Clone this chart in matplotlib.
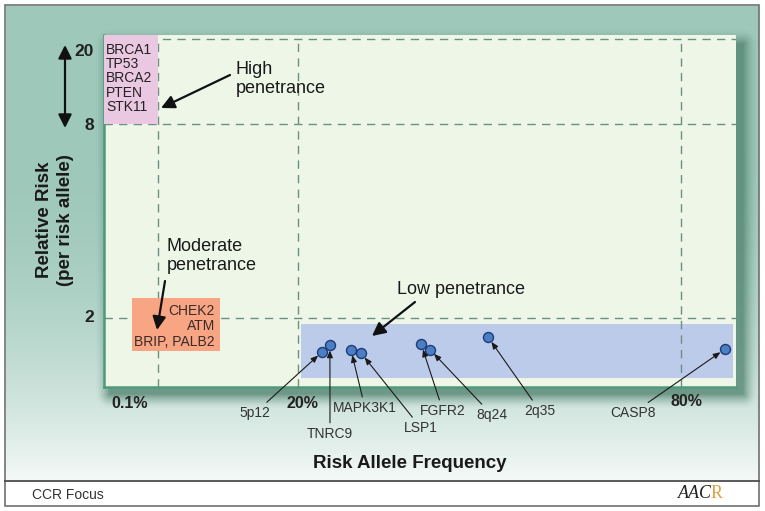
import numpy as np
import matplotlib
matplotlib.use("Agg")
import matplotlib.pyplot as plt
from matplotlib.patches import Rectangle

plt.rcParams['font.family'] = ['Liberation Sans', 'DejaVu Sans']

# Data (schematic values)
genes = ['5p12', 'TNRC9', 'MAPK3K1', 'LSP1', 'FGFR2', '8q24', '2q35', 'CASP8']
freq = [23.8, 25.0, 28.3, 29.9, 39.3, 40.7, 49.8, 86.9]   # risk allele frequency, %
rr = [1.51, 1.61, 1.54, 1.49, 1.62, 1.54, 1.72, 1.55]     # relative risk

high_genes = ['BRCA1', 'TP53', 'BRCA2', 'PTEN', 'STK11']
moderate_genes = ['CHEK2', 'ATM', 'BRIP, PALB2']

# penetrance regions: (freq_lo, freq_hi, rr_lo, rr_hi)
high_region = (0, 0.1, 8, 20.56)
moderate_region = (0.052, 8.9, 1.52, 2.62)
low_region = (20.47, 88.15, 1.13, 1.91)

freq_ticks = [0.1, 20, 80]
freq_labels = ['0.1%', '20%', '80%']
rr_ticks = [2, 8, 20]
rr_labels = ['2', '8', '20']

# schematic (piecewise linear) axes
FREQ_KNOTS, FREQ_POS = [0, 0.1, 20, 80], [0, 54, 194, 577]
RR_KNOTS, RR_POS = [1, 2, 8, 20], [0, 69, 263, 348]


def piecewise(v, xs, ys):
    v = np.asarray(v, dtype=float)
    out = np.interp(v, xs, ys)
    lo = (ys[1] - ys[0]) / (xs[1] - xs[0])
    hi = (ys[-1] - ys[-2]) / (xs[-1] - xs[-2])
    out = np.where(v < xs[0], ys[0] + (v - xs[0]) * lo, out)
    out = np.where(v > xs[-1], ys[-1] + (v - xs[-1]) * hi, out)
    return out


fig = plt.figure(figsize=(7.65, 5.11), dpi=100)

# background panel in pixel coordinates
bg = fig.add_axes([0, 0, 1, 1])
bg.set_xlim(0, 765)
bg.set_ylim(511, 0)
bg.axis('off')

yy, xx = np.mgrid[0:511, 0:765] + 0.5
t = np.clip((yy - 150) / 330, 0, 1) ** 2
top = np.array([158, 200, 186]) / 255
bottom = np.array([244, 249, 247]) / 255
img = top * (1 - t[..., None]) + bottom * t[..., None]
# drop shadow of the plot area
dx = np.maximum.reduce([110 - xx, np.zeros_like(xx), xx - 743])
dy = np.maximum.reduce([44 - yy, np.zeros_like(yy), yy - 394])
d = np.hypot(dx, dy)
s = (np.clip(1 - d / 15, 0, 1) ** 1.6 * 0.75)[..., None]
shadow = np.array([78, 128, 108]) / 255
img = img * (1 - s) + shadow * s
outside = (xx < 6) | (xx > 759) | (yy < 6) | (yy > 481)
img[outside] = 1.0
bg.imshow(img, extent=(0, 765, 511, 0), aspect='auto', interpolation='bilinear', zorder=0)
bg.add_patch(Rectangle((5.5, 5.5), 753.5, 501, fill=False, ec='#707070', lw=1.2, zorder=2))
bg.plot([5.5, 759], [481, 481], color='#4d4d4d', lw=1.3, zorder=2)

px = bg.transData

# main plot area
ax = fig.add_axes([104 / 765, (511 - 387) / 511, 632 / 765, 352 / 511])
ax.set_xscale('function', functions=(lambda v: piecewise(v, FREQ_KNOTS, FREQ_POS),
                                     lambda p: piecewise(p, FREQ_POS, FREQ_KNOTS)))
ax.set_yscale('function', functions=(lambda v: piecewise(v, RR_KNOTS, RR_POS),
                                     lambda p: piecewise(p, RR_POS, RR_KNOTS)))
ax.set_xlim(0, 88.62)
ax.set_ylim(1, 20.56)
ax.set_facecolor('#eef6e8')
ax.set_xticks([])
ax.set_yticks([])
ax.minorticks_off()
for side in ['top', 'right']:
    ax.spines[side].set_visible(False)
for side in ['left', 'bottom']:
    ax.spines[side].set_color('#4f9a7c')
    ax.spines[side].set_linewidth(1.8)

grid_kw = dict(color='#6b8f80', lw=1.0, linestyle=(0, (6, 4.5)), zorder=2)
for f in freq_ticks:
    ax.plot([f, f], [1, rr_ticks[-1]], **grid_kw)
for r in rr_ticks:
    ax.axhline(r, **grid_kw)


def region(box, color, z):
    x0, x1, y0, y1 = box
    ax.add_patch(Rectangle((x0, y0), x1 - x0, y1 - y0, facecolor=color, edgecolor='none', zorder=z))


region(low_region, '#bdcbea', 1)
region(high_region, '#ebc8e1', 3)
region(moderate_region, '#f7a582', 3)

# genes in the high / moderate boxes
for i, g in enumerate(high_genes):
    ax.text(106, 50 + 14.2 * i, g, transform=px, fontsize=10, color='#222222',
            ha='left', va='center', zorder=4)
for i, g in enumerate(moderate_genes):
    ax.text(215, 311 + 15.5 * i, g, transform=px, fontsize=10, color='#3a2a2a',
            ha='right', va='center', zorder=4)

# low-penetrance loci
ax.scatter(freq, rr, s=52, color='#4a7fc3', edgecolor='#1e3a78', linewidth=1.0, zorder=6)
label_px = [(255, 413), (330, 434), (365, 408), (421, 428),
            (443, 411), (492, 415), (540, 411), (633, 413)]
for g, f, r, (lx, ly) in zip(genes, freq, rr, label_px):
    ax.annotate(g, xy=(f, r), xytext=(lx, ly), textcoords=px, fontsize=10,
                color='#333333', ha='center', va='center',
                arrowprops=dict(arrowstyle='-|>,head_length=0.6,head_width=0.25',
                                mutation_scale=7, color='#1a1a1a', lw=0.8,
                                shrinkA=1, shrinkB=4), zorder=7)

# penetrance annotations
big_arrow = dict(arrowstyle='-|>,head_length=0.8,head_width=0.4', mutation_scale=10,
                 color='#111111', lw=1.6, shrinkA=0, shrinkB=0)
ax.text(236, 79, 'High\npenetrance', transform=px, fontsize=13, color='#1a1a1a',
        ha='left', va='center', linespacing=1.2)
ax.annotate('', xy=(161, 108), xytext=(230, 75), xycoords=px, textcoords=px,
            arrowprops=big_arrow)
ax.text(167, 256, 'Moderate\npenetrance', transform=px, fontsize=13, color='#1a1a1a',
        ha='left', va='center', linespacing=1.2)
ax.annotate('', xy=(157, 330), xytext=(165, 281), xycoords=px, textcoords=px,
            arrowprops=big_arrow)
ax.text(397, 290, 'Low penetrance', transform=px, fontsize=13, color='#1a1a1a',
        ha='left', va='center')
ax.annotate('', xy=(372, 336), xytext=(415, 302), xycoords=px, textcoords=px,
            arrowprops=big_arrow)

# tick labels
for lab, (tx, ty) in zip(freq_labels, [(130, 403), (302, 403), (686, 402)]):
    ax.text(tx, ty, lab, transform=px, fontsize=11.5, fontweight='bold',
            color='#222222', ha='center', va='center')
for lab, ty in zip(rr_labels, [318, 125, 52]):
    ax.text(94, ty, lab, transform=px, fontsize=12.5, fontweight='bold',
            color='#222222', ha='right', va='center')
ax.annotate('', xy=(65, 45), xytext=(65, 128), xycoords=px, textcoords=px,
            arrowprops=dict(arrowstyle='<|-|>,head_length=0.8,head_width=0.4',
                            mutation_scale=10, color='#111111', lw=1.6,
                            shrinkA=0, shrinkB=0))

# axis titles
ax.text(410, 463, 'Risk Allele Frequency', transform=px, fontsize=13.5,
        fontweight='bold', color='#1a1a1a', ha='center', va='center')
ax.text(55, 220, 'Relative Risk\n(per risk allele)', transform=px, fontsize=13.5,
        fontweight='bold', color='#1a1a1a', ha='center', va='center',
        rotation=90, linespacing=1.25)

# footer
ax.text(32, 495, 'CCR Focus', transform=px, fontsize=10, color='#333333',
        ha='left', va='center')
ax.text(712, 493, 'AAC', transform=px, fontsize=13, color='#222222',
        family='Liberation Serif', style='italic', ha='right', va='center')
ax.text(711, 493, 'R', transform=px, fontsize=13, color='#e0a040',
        family='Liberation Serif', ha='left', va='center')

fig.savefig('out.png', dpi=100)
